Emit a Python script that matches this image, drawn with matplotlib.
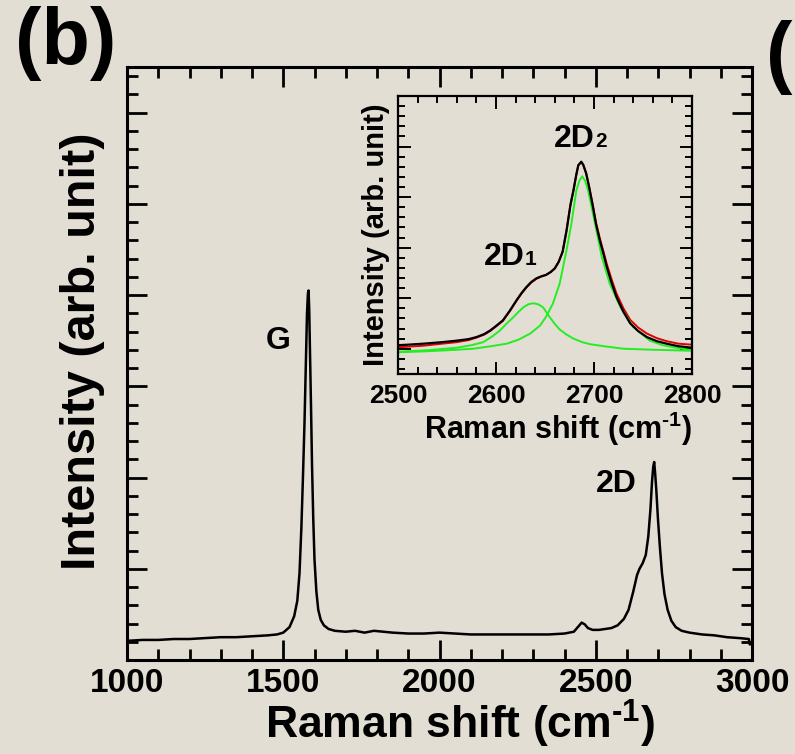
import matplotlib
matplotlib.use("Agg")
import matplotlib.pyplot as plt
from matplotlib.ticker import MultipleLocator, NullFormatter

plt.rcParams['font.family'] = ['Liberation Sans', 'DejaVu Sans']
plt.rcParams['font.weight'] = 'bold'
plt.rcParams['mathtext.fontset'] = 'custom'
plt.rcParams['mathtext.rm'] = 'Liberation Sans:bold'
plt.rcParams['mathtext.it'] = 'Liberation Sans:bold'
plt.rcParams['mathtext.bf'] = 'Liberation Sans:bold'
plt.rcParams['mathtext.default'] = 'rm'

# ---------------- data ----------------
# main spectrum
main_x = [1000, 1050, 1100, 1150, 1200, 1250, 1300, 1350, 1400, 1450, 1480, 1500,
          1520, 1535, 1545, 1552, 1558, 1563, 1568, 1572, 1576, 1579, 1581, 1583,
          1586, 1589, 1592, 1596, 1600, 1606, 1612, 1620, 1630, 1645, 1665, 1700,
          1730, 1760, 1790, 1820, 1850, 1900, 1950, 2000, 2050, 2100, 2150, 2200,
          2250, 2300, 2350, 2400, 2430, 2445, 2455, 2465, 2475, 2490, 2510, 2530,
          2550, 2570, 2590, 2605, 2620, 2632, 2640, 2650, 2660, 2668, 2675, 2680,
          2684, 2687, 2690, 2694, 2699, 2705, 2712, 2720, 2730, 2742, 2756, 2775,
          2800, 2840, 2880, 2920, 2960, 2990, 2993, 3000]
main_y = [0.21, 0.22, 0.22, 0.23, 0.23, 0.24, 0.25, 0.25, 0.26, 0.27, 0.28, 0.30,
          0.36, 0.48, 0.65, 0.95, 1.45, 2.00, 2.60, 3.20, 3.80, 4.02, 4.05, 3.85,
          3.30, 2.75, 2.15, 1.55, 1.10, 0.75, 0.55, 0.44, 0.38, 0.34, 0.32, 0.31,
          0.32, 0.30, 0.32, 0.31, 0.30, 0.29, 0.29, 0.30, 0.29, 0.28, 0.28, 0.28,
          0.28, 0.28, 0.28, 0.29, 0.31, 0.37, 0.41, 0.39, 0.35, 0.33, 0.33, 0.34,
          0.35, 0.38, 0.45, 0.55, 0.75, 0.93, 1.00, 1.06, 1.15, 1.35, 1.65, 1.95,
          2.12, 2.17, 2.05, 1.85, 1.55, 1.25, 0.95, 0.72, 0.55, 0.43, 0.36, 0.32,
          0.30, 0.28, 0.27, 0.25, 0.24, 0.23, 0.17, 0.19]

# inset: measured 2D band (black)
ins_x = [2500, 2510, 2526, 2545, 2560, 2572, 2580, 2588, 2594, 2600, 2607, 2614,
         2621, 2626, 2631, 2636, 2641, 2646, 2651, 2656, 2660, 2664, 2668, 2672,
         2676, 2679, 2682, 2684, 2687, 2689, 2692, 2695, 2699, 2702, 2706, 2710,
         2713, 2718, 2723, 2730, 2737, 2745, 2754, 2764, 2774, 2786, 2800]
ins_y = [0.07, 0.08, 0.10, 0.13, 0.16, 0.19, 0.23, 0.29, 0.36, 0.45, 0.56, 0.75,
         0.96, 1.10, 1.22, 1.32, 1.39, 1.43, 1.46, 1.52, 1.59, 1.72, 1.92, 2.34,
         2.85, 3.13, 3.45, 3.63, 3.70, 3.64, 3.47, 3.20, 2.80, 2.47, 2.14, 1.85,
         1.62, 1.30, 1.02, 0.73, 0.50, 0.35, 0.23, 0.15, 0.10, 0.05, 0.02]
# inset: cumulative fit (red)
fit_y = [0.03, 0.04, 0.06, 0.10, 0.13, 0.17, 0.22, 0.28, 0.35, 0.44, 0.55, 0.74,
         0.95, 1.09, 1.21, 1.31, 1.38, 1.43, 1.46, 1.52, 1.59, 1.72, 1.92, 2.34,
         2.85, 3.13, 3.45, 3.63, 3.69, 3.64, 3.47, 3.21, 2.82, 2.50, 2.18, 1.90,
         1.68, 1.37, 1.09, 0.80, 0.57, 0.42, 0.30, 0.21, 0.15, 0.10, 0.08]
# inset: Lorentzian components (green)
g1_x = [2500, 2530, 2560, 2575, 2587, 2596, 2604, 2611, 2618, 2623, 2628, 2633,
        2638, 2643, 2648, 2655, 2660, 2665, 2672, 2679, 2688, 2696, 2710, 2730,
        2760, 2800]
g1_y = [-0.06, -0.03, 0.02, 0.07, 0.13, 0.24, 0.36, 0.50, 0.63, 0.73, 0.82, 0.88,
        0.90, 0.88, 0.82, 0.62, 0.49, 0.38, 0.28, 0.20, 0.13, 0.09, 0.05, 0.00,
        -0.02, -0.04]
g2_x = [2500, 2530, 2560, 2577, 2595, 2611, 2623, 2635, 2645, 2651, 2658, 2665,
        2672, 2677, 2682, 2685, 2688, 2691, 2694, 2701, 2708, 2716, 2727, 2740,
        2757, 2770, 2781, 2800]
g2_y = [-0.07, -0.05, -0.02, 0.00, 0.05, 0.10, 0.18, 0.30, 0.46, 0.63, 0.89, 1.29,
        1.95, 2.48, 3.13, 3.32, 3.41, 3.32, 3.13, 2.48, 1.81, 1.29, 0.82, 0.43,
        0.16, 0.07, 0.03, -0.03]

main_ticks = [1000, 1500, 2000, 2500, 3000]
inset_ticks = [2500, 2600, 2700, 2800]

BG = '#E3DED3'

fig = plt.figure(figsize=(7.95, 7.54), dpi=100, facecolor=BG)

# ---------------- main axes ----------------
ax = fig.add_axes([127/795, 94/754, 625/795, 593/754], facecolor=BG)
ax.plot(main_x, main_y, color='black', lw=1.8, solid_joinstyle='round')
ax.set_xlim(1000, 3000)
ax.set_ylim(0, 6.5)
ax.xaxis.set_minor_locator(MultipleLocator(100))
ax.yaxis.set_major_locator(MultipleLocator(1))
ax.yaxis.set_minor_locator(MultipleLocator(0.2))
ax.set_xticks(main_ticks)
ax.set_xticklabels([str(t) for t in main_ticks])
ax.yaxis.set_major_formatter(NullFormatter())
ax.tick_params(which='both', direction='in', top=True, right=True, width=2.0)
ax.tick_params(which='major', length=14.5)
ax.tick_params(which='minor', length=8)
ax.tick_params(axis='x', which='major', labelsize=24, pad=6)
for s in ax.spines.values():
    s.set_linewidth(2.2)
ax.set_xlabel(r'Raman shift (cm$^{\text{-}1}$)', fontsize=32, fontweight='bold')
ax.xaxis.set_label_coords(0.533, -0.064)
ax.set_ylabel('Intensity (arb. unit)', fontsize=35, fontweight='bold')
ax.yaxis.set_label_coords(-0.035, 0.52)

ax.text(1485, 3.5, 'G', fontsize=23, fontweight='bold', ha='center', va='center')
ax.text(2566, 1.93, '2D', fontsize=23, fontweight='bold', ha='center', va='center')

# ---------------- inset ----------------
ins = fig.add_axes([398/795, 380/754, 294/795, 278/754], facecolor=BG)
ins.plot(ins_x, fit_y, color='#E00000', lw=1.4)
ins.plot(g1_x, g1_y, color='#22EE22', lw=1.4)
ins.plot(g2_x, g2_y, color='#22EE22', lw=1.4)
ins.plot(ins_x, ins_y, color='black', lw=1.6)
ins.set_xlim(2500, 2800)
ins.set_ylim(-0.5, 5)
ins.set_xticks(inset_ticks)
ins.set_xticklabels([str(t) for t in inset_ticks])
ins.xaxis.set_minor_locator(MultipleLocator(20))
ins.yaxis.set_major_locator(MultipleLocator(1))
ins.yaxis.set_minor_locator(MultipleLocator(0.2))
ins.yaxis.set_major_formatter(NullFormatter())
ins.tick_params(which='both', direction='in', top=True, right=True, width=1.4)
ins.tick_params(which='major', length=9)
ins.tick_params(which='minor', length=5)
ins.tick_params(axis='x', which='major', labelsize=19, pad=7)
for s in ins.spines.values():
    s.set_linewidth(1.6)
ins.set_xlabel(r'Raman shift (cm$^{\text{-}1}$)', fontsize=22, fontweight='bold')
ins.xaxis.set_label_coords(0.544, -0.13)
ins.set_ylabel('Intensity (arb. unit)', fontsize=21, fontweight='bold')
ins.yaxis.set_label_coords(-0.027, 0.5)

ins.text(2629.6, 1.65, '2D', fontsize=23, fontweight='bold', ha='right', va='baseline')
ins.text(2629.6, 1.65, '1', fontsize=15, fontweight='bold', ha='left', va='baseline')
ins.text(2701, 3.99, '2D', fontsize=23, fontweight='bold', ha='right', va='baseline')
ins.text(2701, 3.99, '2', fontsize=15, fontweight='bold', ha='left', va='baseline')

# panel letter, plus the opening parenthesis of the neighbouring panel's letter
fig.text(15/795, 1 - 6/754, '(b)', fontsize=57, fontweight='bold', ha='left', va='top')
fig.text(793/795, 1 - 20/754, '(', fontsize=57, fontweight='bold', ha='right', va='top')

fig.savefig('out.png', dpi=100, facecolor=BG)
